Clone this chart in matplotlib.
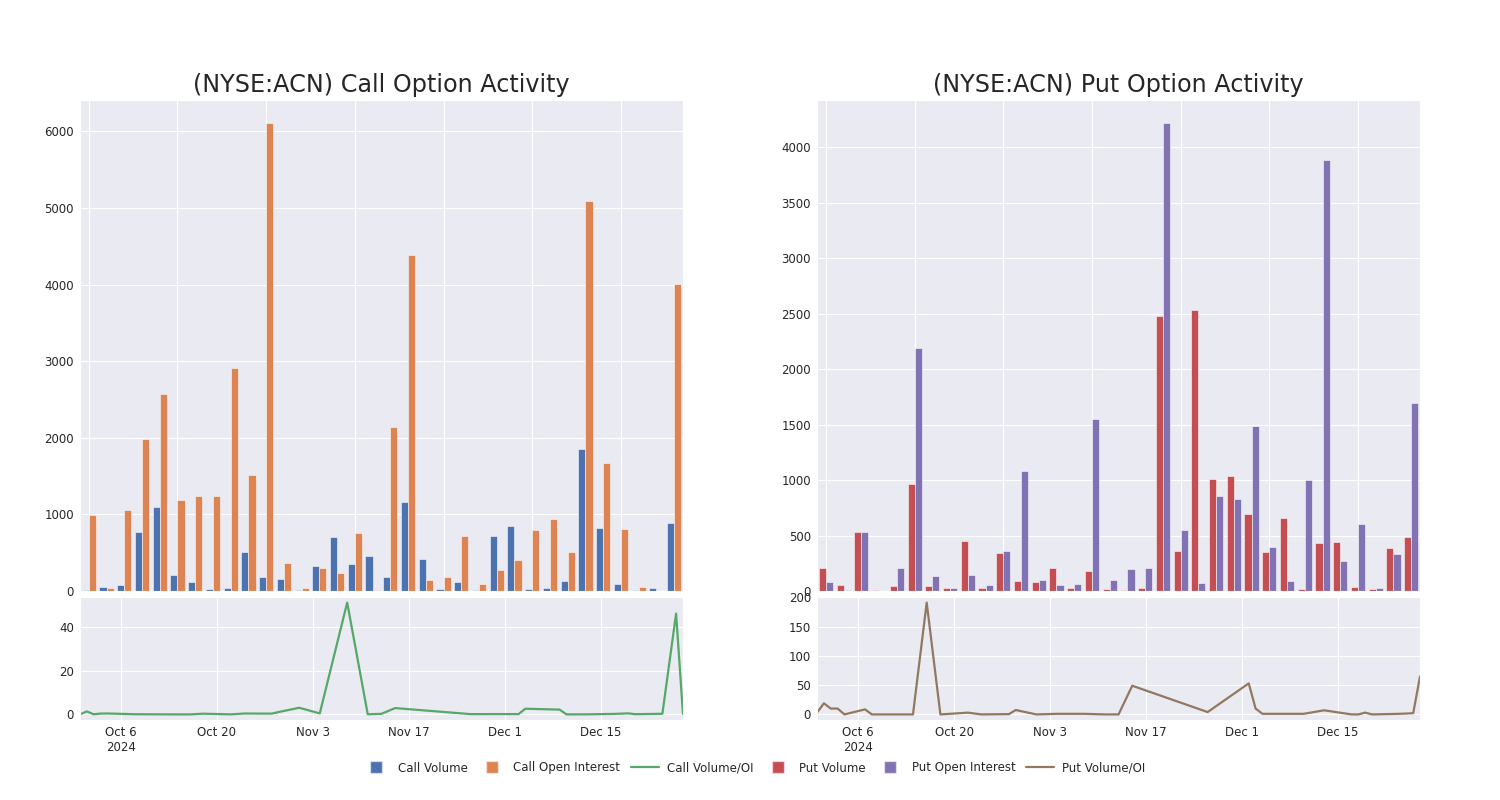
import matplotlib
matplotlib.use("Agg")
import matplotlib.pyplot as plt
import matplotlib.dates as mdates
from matplotlib.lines import Line2D
from matplotlib.ticker import MultipleLocator, FixedLocator
import numpy as np
import pandas as pd
import seaborn as sns

sns.set_style("darkgrid")
plt.rcParams['font.family'] = ['DejaVu Sans']

dates = ['2024-09-30', '2024-10-01', '2024-10-02', '2024-10-03', '2024-10-04',
         '2024-10-07', '2024-10-08', '2024-10-14', '2024-10-16', '2024-10-18',
         '2024-10-22', '2024-10-24', '2024-10-28', '2024-10-29', '2024-11-01',
         '2024-11-04', '2024-11-08', '2024-11-11', '2024-11-13', '2024-11-15',
         '2024-11-26', '2024-12-02', '2024-12-03', '2024-12-04', '2024-12-09',
         '2024-12-10', '2024-12-13', '2024-12-17', '2024-12-18', '2024-12-19',
         '2024-12-20', '2024-12-24', '2024-12-26', '2024-12-27']

call_volume = [10, 48, 74, 765, 1100, 209, 117, 26, 39, 504, 187, 152, 13, 330, 700,
               357, 452, 178, 1165, 413, 26, 117, 13, 717, 852, 26, 35, 126, 1848,
               822, 96, 17, 43, 883]
call_oi = [990, 35, 1060, 1978, 2578, 1183, 1243, 1243, 2917, 1509, 6105, 365, 35,
           300, 230, 752, 9, 2143, 4391, 143, 187, 717, 96, 278, 404, 796, 935, 504,
           5087, 1665, 809, 57, 1, 4009]
call_ratio = [0.01, 1.37, 0.07, 0.39, 0.43, 0.18, 0.09, 0.02, 0.01, 0.33, 0.03, 0.42,
              0.37, 1.1, 3.04, 0.47, 51, 0.08, 0.27, 2.9, 0.14, 0.16, 0.14, 2.6, 2.2,
              0.03, 0.04, 0.25, 0.36, 0.49, 0.12, 0.3, 46, 0.22]

put_volume = [205, 54, 536, 9, 45, 961, 42, 27, 449, 24, 346, 87, 81, 208, 30, 178,
              21, 9, 30, 2479, 364, 2530, 1012, 1036, 690, 349, 657, 21, 431, 446,
              39, 18, 392, 488]
put_oi = [78, 5, 533, 0, 208, 2190, 133, 27, 148, 51, 364, 1081, 99, 51, 60, 1548,
          96, 196, 211, 4217, 548, 69, 855, 831, 1485, 395, 93, 1003, 3883, 271, 605,
          27, 337, 1696]
put_ratio = [3, 19, 10, 10, 0, 8.6, 0, 0, 191, 0, 3, 0, 0.5, 7.5, 0, 1, 1, 0, 0, 49,
             4, 53, 10, 1, 1, 1, 7, 0, 0, 3, 0, 1, 2, 65]

tick_dates = ['2024-10-06', '2024-10-20', '2024-11-03', '2024-11-17', '2024-12-01', '2024-12-15']
tick_labels = ['Oct 6\n2024', 'Oct 20', 'Nov 3', 'Nov 17', 'Dec 1', 'Dec 15']

C_BLUE, C_ORANGE, C_GREEN = '#4C72B0', '#DD8452', '#55A868'
C_RED, C_PURPLE, C_BROWN = '#C44E52', '#8172B3', '#937860'

FS = 8.5
fig = plt.figure(figsize=(15, 8), dpi=100)

dt = pd.to_datetime(dates)
tdt = pd.to_datetime(tick_dates)
x = np.arange(len(dates))
w = 0.4


def panel(left, title, vol, oi, ratio, cv, co, cl, ratio_step):
    ax = fig.add_axes([left, 0.26125, 0.402, 0.61375])
    ax.bar(x - w / 2, vol, w, color=cv, edgecolor=(1, 1, 1, 0.55), linewidth=0.7)
    ax.bar(x + w / 2, oi, w, color=co, edgecolor=(1, 1, 1, 0.55), linewidth=0.7)
    ax.set_xlim(-0.5, len(dates) - 0.5)
    ax.xaxis.set_major_locator(FixedLocator(np.arange(0, len(dates), 5)))
    ax.tick_params(axis='x', labelbottom=False)
    ax.tick_params(axis='y', labelsize=FS, pad=0.8)
    ax.set_title(title, fontsize=17.2, color='#262626')

    ax2 = fig.add_axes([left, 0.1, 0.402, 0.15375])
    ax2.plot(dt, ratio, color=cl, linewidth=1.6)
    ax2.set_xlim(dt[0], dt[-1])
    ax2.yaxis.set_major_locator(MultipleLocator(ratio_step))
    ax2.set_xticks(mdates.date2num(tdt))
    ax2.set_xticklabels(tick_labels)
    ax2.tick_params(axis='x', labelsize=FS, pad=0.5)
    ax2.tick_params(axis='y', labelsize=FS, pad=0.8)
    return ax, ax2


panel(0.0533, '(NYSE:ACN) Call Option Activity', call_volume, call_oi, call_ratio,
      C_BLUE, C_ORANGE, C_GREEN, 20)
panel(0.5447, '(NYSE:ACN) Put Option Activity', put_volume, put_oi, put_ratio,
      C_RED, C_PURPLE, C_BROWN, 50)

handles = [
    Line2D([], [], marker='s', linestyle='none', markersize=9, color=C_BLUE,
           markeredgecolor=(1, 1, 1, 0.5)),
    Line2D([], [], marker='s', linestyle='none', markersize=9, color=C_ORANGE,
           markeredgecolor=(1, 1, 1, 0.5)),
    Line2D([], [], color=C_GREEN, linewidth=1.6),
    Line2D([], [], marker='s', linestyle='none', markersize=9, color=C_RED,
           markeredgecolor=(1, 1, 1, 0.5)),
    Line2D([], [], marker='s', linestyle='none', markersize=9, color=C_PURPLE,
           markeredgecolor=(1, 1, 1, 0.5)),
    Line2D([], [], color=C_BROWN, linewidth=1.6),
]
labels = ['Call Volume', 'Call Open Interest', 'Call Volume/OI',
          'Put Volume', 'Put Open Interest', 'Put Volume/OI']
fig.legend(handles, labels, loc='center', bbox_to_anchor=(0.5023, 0.04), ncol=6,
           frameon=False, fontsize=FS, handlelength=2.4, columnspacing=0.9,
           handletextpad=0.6)

fig.savefig('out.png', dpi=100)
